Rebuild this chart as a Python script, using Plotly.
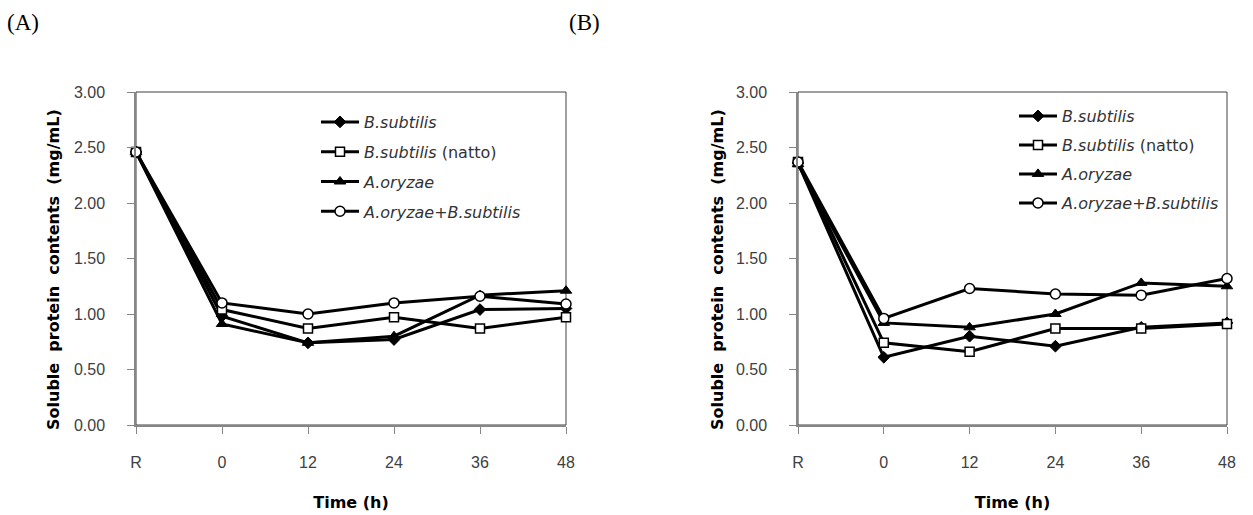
import plotly.graph_objects as go
from plotly.subplots import make_subplots

# Sampling times (R = raw material)
time_labels = ["R", "0", "12", "24", "36", "48"]

series_names = [
    "<i>B.subtilis</i>",
    "<i>B.subtilis</i> (natto)",
    "<i>A.oryzae</i>",
    "<i>A.oryzae+B.subtilis</i>",
]

# Panel (A): soluble protein contents (mg/mL)
a_bsubtilis = [2.46, 0.98, 0.74, 0.77, 1.04, 1.05]
a_natto = [2.46, 1.04, 0.87, 0.97, 0.87, 0.97]
a_oryzae = [2.46, 0.91, 0.74, 0.80, 1.17, 1.21]
a_mixed = [2.46, 1.10, 1.00, 1.10, 1.16, 1.09]

# Panel (B): soluble protein contents (mg/mL)
b_bsubtilis = [2.36, 0.61, 0.80, 0.71, 0.88, 0.92]
b_natto = [2.37, 0.74, 0.66, 0.87, 0.87, 0.91]
b_oryzae = [2.35, 0.92, 0.88, 1.00, 1.28, 1.25]
b_mixed = [2.37, 0.96, 1.23, 1.18, 1.17, 1.32]

y_title = "Soluble\u00a0 protein\u00a0 contents\u00a0 (mg/mL)"
x_title = "Time (h)"

W, H = 1253, 515


def px(x):
    """Figure x position (px) -> paper fraction."""
    return x / W


def py(y):
    """Figure y position (px, from top) -> paper fraction."""
    return 1 - y / H


marker_styles = [
    dict(symbol="diamond", size=9, color="black", line=dict(color="black", width=1)),
    dict(symbol="square", size=9, color="white", line=dict(color="black", width=1.5)),
    dict(symbol="triangle-up", size=10, color="black", line=dict(color="black", width=1)),
    dict(symbol="circle", size=10, color="white", line=dict(color="black", width=1.5)),
]

fig = make_subplots(rows=1, cols=2)

panels = [
    (1, "legend", [a_bsubtilis, a_natto, a_oryzae, a_mixed]),
    (2, "legend2", [b_bsubtilis, b_natto, b_oryzae, b_mixed]),
]
for col, legend_name, values in panels:
    for k, (name, ys) in enumerate(zip(series_names, values)):
        fig.add_trace(
            go.Scatter(
                x=time_labels,
                y=ys,
                name=name,
                mode="lines+markers",
                line=dict(color="black", width=3),
                marker=marker_styles[k],
                cliponaxis=False,
                legend=legend_name,
                legendgroup=f"{legend_name}-{k}",
            ),
            row=1,
            col=col,
        )

tick_font = dict(family="Liberation Sans, Arial, sans-serif", size=16, color="#404040")
title_font = dict(family="DejaVu Sans, Verdana, sans-serif", size=16, color="black", weight="bold")
axis_gray = "#868686"

y_domain = [py(425), py(92)]
x_domains = [[px(136), px(566)], [px(798), px(1227)]]
y_title_x = [53, 717]

annotations = []
for i, xd in enumerate(x_domains, start=1):
    xa = "xaxis" if i == 1 else f"xaxis{i}"
    ya = "yaxis" if i == 1 else f"yaxis{i}"
    fig.layout[xa].update(
        domain=xd,
        type="category",
        categoryorder="array",
        categoryarray=time_labels,
        range=[0, 5],
        automargin=False,
        showgrid=False,
        zeroline=False,
        showline=True,
        linecolor=axis_gray,
        linewidth=1.5,
        ticks="outside",
        ticklen=7,
        tickcolor=axis_gray,
        tickwidth=1,
        ticklabelstandoff=15,
        tickfont=tick_font,
        title=dict(text=x_title, font=title_font, standoff=27),
    )
    fig.layout[ya].update(
        domain=y_domain,
        range=[0, 3],
        dtick=0.5,
        tickformat=".2f",
        automargin=False,
        showgrid=False,
        zeroline=False,
        showline=True,
        linecolor=axis_gray,
        linewidth=1.5,
        ticks="outside",
        ticklen=7,
        tickcolor=axis_gray,
        tickwidth=1,
        ticklabelstandoff=19,
        tickfont=tick_font,
    )
    # y-axis title, rotated, beside the tick labels
    annotations.append(
        dict(text=y_title, textangle=-90, x=px(y_title_x[i - 1]), y=py(270),
             xref="paper", yref="paper", xanchor="center", yanchor="middle",
             showarrow=False, font=title_font)
    )
    # plot-area frame (top and right edges)
    fig.add_shape(
        type="rect",
        xref=f"x{'' if i == 1 else i} domain",
        yref=f"y{'' if i == 1 else i} domain",
        x0=0, x1=1, y0=0, y1=1,
        line=dict(color="#404040", width=1),
        layer="below",
    )

legend_font = dict(family="DejaVu Sans, Verdana, sans-serif", size=16, color="#333333")
label_font = dict(family="Liberation Serif, DejaVu Serif, serif", size=23, color="black")
annotations += [
    dict(text="(A)", x=px(5), y=py(22), xref="paper", yref="paper",
         xanchor="left", yanchor="middle", showarrow=False, font=label_font),
    dict(text="(B)", x=px(567), y=py(22), xref="paper", yref="paper",
         xanchor="left", yanchor="middle", showarrow=False, font=label_font),
]

fig.update_layout(
    width=W,
    height=H,
    autosize=False,
    margin=dict(l=0, r=0, t=0, b=0),
    paper_bgcolor="white",
    plot_bgcolor="white",
    showlegend=True,
    legend=dict(
        x=px(316), y=py(105), xanchor="left", yanchor="top",
        font=legend_font, bgcolor="rgba(0,0,0,0)", borderwidth=0,
        traceorder="grouped", tracegroupgap=6, itemwidth=38,
    ),
    legend2=dict(
        x=px(1014), y=py(99), xanchor="left", yanchor="top",
        font=legend_font, bgcolor="rgba(0,0,0,0)", borderwidth=0,
        traceorder="grouped", tracegroupgap=5.2, itemwidth=38,
    ),
    annotations=annotations,
)

fig.write_html("out.html", config={"responsive": False, "displayModeBar": False})
